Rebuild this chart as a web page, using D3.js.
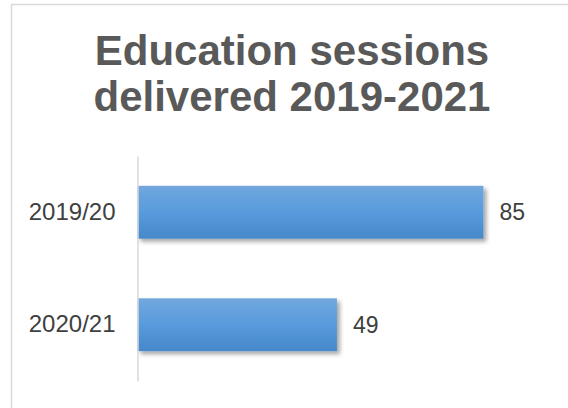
<!DOCTYPE html>
<html>
<head>
<meta charset="utf-8">
<script src="https://cdn.jsdelivr.net/npm/d3@7"></script>
<style>
  html, body { margin: 0; padding: 0; background: #fff; }
  svg { display: block; font-family: "Liberation Sans", Arial, sans-serif; }
</style>
</head>
<body>
<script>

// chart data
const categories = ["2019/20", "2020/21"];
const sessions = [85, 49];
const titleLines = ["Education sessions", "delivered 2019-2021"];

const width = 568, height = 408;

// plot area, the axis line sits at plot.left
const plot = {left: 137.5, top: 156, width: 407, height: 225};

let svg = d3.select("body").append("svg")
    .attr("width", width)
    .attr("height", height);

// chart frame, runs off the right and bottom of the window
svg.append("rect")
    .attr("x", 11.5).attr("y", 4.5)
    .attr("width", 560).attr("height", 420)
    .attr("fill", "#fff")
    .attr("stroke", "#d9d9d9")
    .attr("stroke-width", 1.5);

let defs = svg.append("defs");

let grad = defs.append("linearGradient")
    .attr("id", "barfill")
    .attr("x1", 0).attr("y1", 0).attr("x2", 0).attr("y2", 1);
grad.append("stop").attr("offset", "0%").attr("stop-color", "#71a7dd");
grad.append("stop").attr("offset", "50%").attr("stop-color", "#589bdc");
grad.append("stop").attr("offset", "100%").attr("stop-color", "#4688c9");

defs.append("filter")
    .attr("id", "shadow")
    .attr("x", "-10%").attr("y", "-20%")
    .attr("width", "130%").attr("height", "160%")
  .append("feDropShadow")
    .attr("dx", 3).attr("dy", 3)
    .attr("stdDeviation", 2)
    .attr("flood-color", "#000")
    .attr("flood-opacity", 0.35);

// title
svg.append("text")
    .attr("x", 292)
    .attr("y", 65)
    .attr("text-anchor", "middle")
    .attr("fill", "#595959")
    .style("font-size", "42px")
    .style("font-weight", "bold")
  .selectAll("tspan")
  .data(titleLines)
  .join("tspan")
    .attr("x", 292)
    .attr("dy", (d, i) => i == 0 ? 0 : 46)
    .text(d => d);

let xscale = d3.scaleLinear().domain([0, 100]).range([0, plot.width]);
let yscale = d3.scaleBand().domain(categories).range([0, plot.height]).paddingInner(0.53).paddingOuter(0.265);

let g = svg.append("g")
    .attr("transform", "translate(" + plot.left + "," + plot.top + ")");

// bars
g.selectAll(".bar")
  .data(sessions)
  .join("rect")
    .attr("class", "bar")
    .attr("x", 0)
    .attr("y", (d, i) => yscale(categories[i]))
    .attr("width", d => xscale(d))
    .attr("height", yscale.bandwidth())
    .attr("fill", "url(#barfill)")
    .attr("filter", "url(#shadow)");

// value labels
g.selectAll(".value")
  .data(sessions)
  .join("text")
    .attr("class", "value")
    .attr("x", d => xscale(d) + 16)
    .attr("y", (d, i) => yscale(categories[i]) + yscale.bandwidth() / 2)
    .attr("dy", "0.35em")
    .attr("fill", "#404040")
    .style("font-size", "23px")
    .text(d => d);

// category axis, no ticks
let yAxis = d3.axisLeft(yscale).tickSize(0).tickPadding(22);
let ax = g.append("g").attr("class", "y axis").call(yAxis);
ax.select(".domain").attr("stroke", "#d9d9d9").attr("stroke-width", 1.5);
ax.selectAll("text")
    .attr("fill", "#404040")
    .style("font-size", "24px")
    .style("font-family", "'Liberation Sans', Arial, sans-serif");

</script>
</body>
</html>
